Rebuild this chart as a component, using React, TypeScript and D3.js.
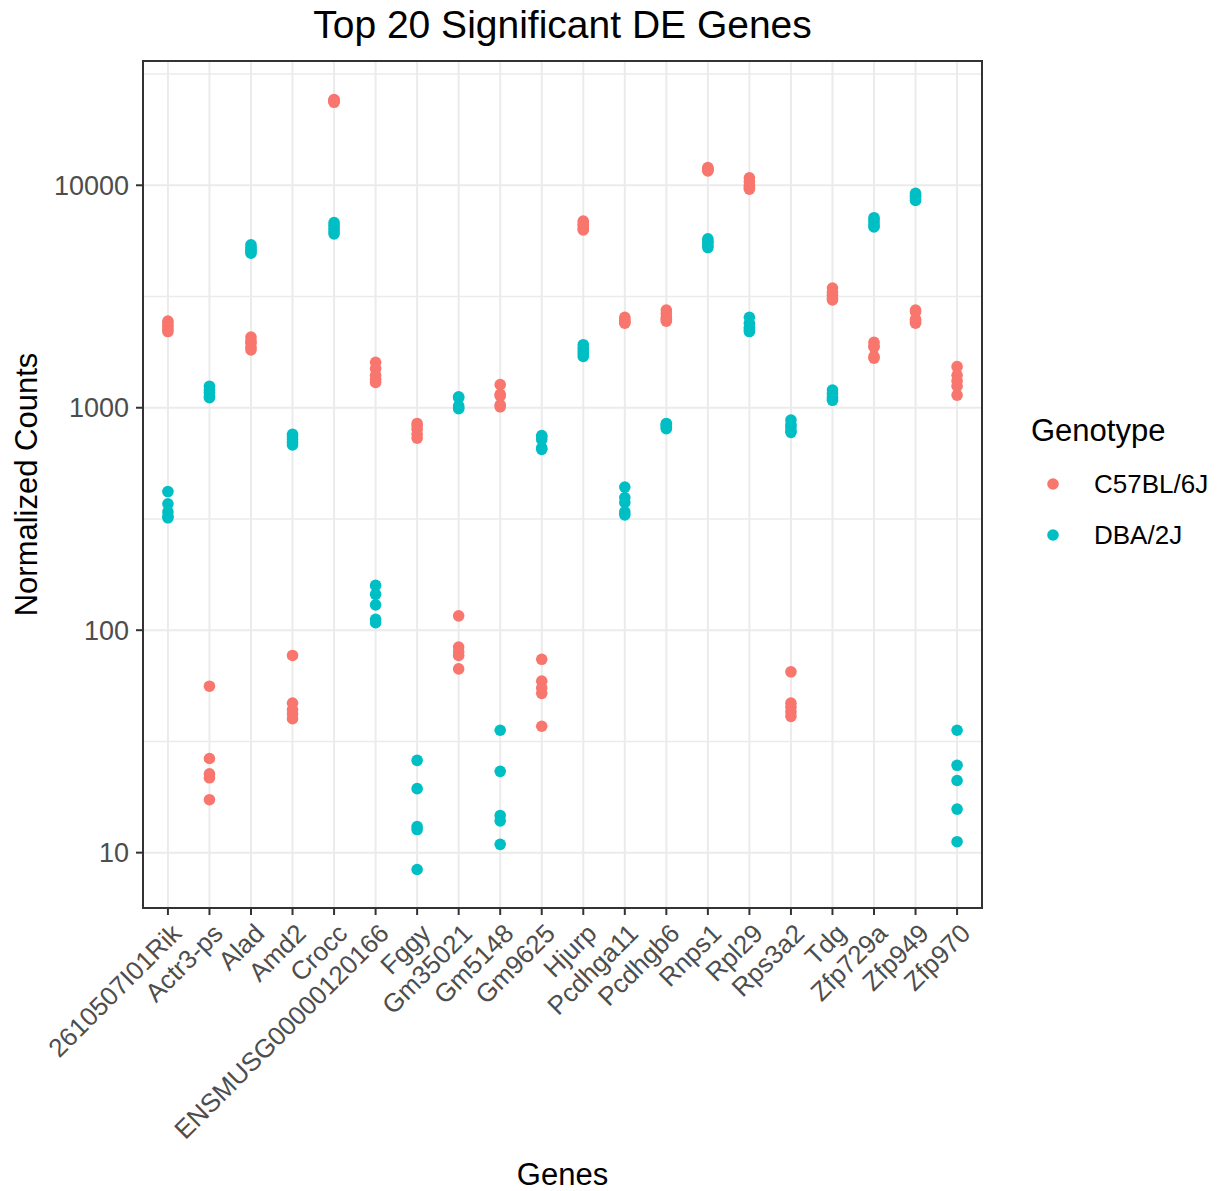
import React from "react";
import * as d3 from "d3";

const genes = [
  "2610507I01Rik", "Actr3-ps", "Alad", "Amd2", "Crocc", "ENSMUSG00000120166",
  "Fggy", "Gm35021", "Gm5148", "Gm9625", "Hjurp", "Pcdhga11", "Pcdhgb6",
  "Rnps1", "Rpl29", "Rps3a2", "Tdg", "Zfp729a", "Zfp949", "Zfp970",
];

const genotypes = ["C57BL/6J", "DBA/2J"];
const genotypeColors = ["#F8766D", "#00BFC4"];

const c57Counts = [
  [2450, 2380, 2320, 2250, 2200],
  [56, 26.5, 22.6, 21.7, 17.3],
  [2080, 2000, 1950, 1870, 1820],
  [77, 47, 44, 42, 40],
  [24300, 24100, 24000, 23800, 23600],
  [1600, 1500, 1400, 1340, 1300],
  [850, 830, 800, 760, 730],
  [116, 84, 80, 77, 67],
  [1270, 1150, 1130, 1030, 1010],
  [74, 59, 55, 52, 37],
  [6900, 6700, 6600, 6400, 6300],
  [2550, 2500, 2450, 2420, 2400],
  [2750, 2650, 2550, 2500, 2450],
  [12000, 11900, 11800, 11700, 11600],
  [10800, 10400, 10000, 9800, 9600],
  [65, 47, 45, 43, 41],
  [3450, 3300, 3200, 3100, 3050],
  [1970, 1900, 1870, 1700, 1670],
  [2750, 2700, 2500, 2450, 2400],
  [1530, 1400, 1320, 1250, 1140],
];

const dbaCounts = [
  [420, 370, 340, 325, 320],
  [1250, 1200, 1170, 1130, 1110],
  [5400, 5250, 5150, 5050, 4950],
  [760, 740, 720, 700, 680],
  [6800, 6600, 6400, 6200, 6050],
  [159, 145, 130, 112, 108],
  [26, 19.4, 13.1, 12.7, 8.4],
  [1120, 1110, 1020, 1000, 990],
  [35.5, 23.2, 14.7, 13.9, 10.9],
  [750, 740, 720, 660, 650],
  [1920, 1850, 1800, 1750, 1700],
  [440, 395, 375, 340, 330],
  [850, 840, 830, 815, 805],
  [5750, 5600, 5500, 5350, 5250],
  [2550, 2400, 2300, 2250, 2200],
  [880, 840, 820, 790, 775],
  [1200, 1160, 1120, 1100, 1080],
  [7150, 7000, 6800, 6600, 6500],
  [9200, 9000, 8900, 8700, 8550],
  [35.5, 24.7, 21.1, 15.7, 11.2],
];

const yTicks = [10, 100, 1000, 10000];
const yMinorTicks = [3.1623, 31.623, 316.23, 3162.3, 31623];

const W = 1219;
const H = 1191;
const panel = { left: 143, right: 982, top: 61, bottom: 908 };
const FONT = "'Liberation Sans', Arial, Helvetica, sans-serif";

export default function App() {
  const points: { gene: string; value: number; g: number }[] = [];
  genes.forEach((gene, i) => {
    c57Counts[i].forEach((v) => points.push({ gene, value: v, g: 0 }));
    dbaCounts[i].forEach((v) => points.push({ gene, value: v, g: 1 }));
  });

  const allVals = points.map((p) => Math.log10(p.value));
  const lmin = d3.min(allVals) as number;
  const lmax = d3.max(allVals) as number;
  const pad = (lmax - lmin) * 0.05;

  const y = d3
    .scaleLog()
    .domain([Math.pow(10, lmin - pad), Math.pow(10, lmax + pad)])
    .range([panel.bottom, panel.top]);

  const x = d3
    .scalePoint<string>()
    .domain(genes)
    .range([panel.left, panel.right])
    .padding(0.6);

  const [d0, d1] = y.domain();
  const inDomain = (v: number) => v >= d0 && v <= d1;

  const gridColor = "#EBEBEB";
  const axisColor = "#333333";
  const tickText = "#4D4D4D";

  return (
    <svg
      width={W}
      height={H}
      style={{ position: "absolute", left: 0, top: 0, display: "block", background: "#fff" }}
      fontFamily={FONT}
    >
      <rect x={0} y={0} width={W} height={H} fill="#fff" />
      {yMinorTicks.filter(inDomain).map((t) => (
        <line key={"ym" + t} x1={panel.left} x2={panel.right} y1={y(t)} y2={y(t)} stroke={gridColor} strokeWidth={1.5} />
      ))}
      {yTicks.map((t) => (
        <line key={"yg" + t} x1={panel.left} x2={panel.right} y1={y(t)} y2={y(t)} stroke={gridColor} strokeWidth={2} />
      ))}
      {genes.map((g) => (
        <line key={"xg" + g} x1={x(g)} x2={x(g)} y1={panel.top} y2={panel.bottom} stroke={gridColor} strokeWidth={2} />
      ))}

      {points.map((p, i) => (
        <circle key={i} cx={x(p.gene)} cy={y(p.value)} r={5.8} fill={genotypeColors[p.g]} />
      ))}

      <rect
        x={panel.left}
        y={panel.top}
        width={panel.right - panel.left}
        height={panel.bottom - panel.top}
        fill="none"
        stroke={axisColor}
        strokeWidth={2}
      />

      {yTicks.map((t) => (
        <g key={"yt" + t}>
          <line x1={panel.left - 7} x2={panel.left} y1={y(t)} y2={y(t)} stroke={axisColor} strokeWidth={2} />
          <text x={panel.left - 14} y={y(t)} dy="0.35em" textAnchor="end" fontSize={27} fill={tickText}>
            {t}
          </text>
        </g>
      ))}

      {genes.map((g) => (
        <g key={"xt" + g}>
          <line x1={x(g)} x2={x(g)} y1={panel.bottom} y2={panel.bottom + 7} stroke={axisColor} strokeWidth={2} />
          <text
            transform={`translate(${(x(g) as number) + 15},${panel.bottom + 27}) rotate(-45)`}
            textAnchor="end"
            fontSize={26}
            fill={tickText}
          >
            {g}
          </text>
        </g>
      ))}

      <text x={(panel.left + panel.right) / 2} y={38} textAnchor="middle" fontSize={39} fill="#000">
        Top 20 Significant DE Genes
      </text>
      <text x={(panel.left + panel.right) / 2} y={1185} textAnchor="middle" fontSize={31} fill="#000">
        Genes
      </text>
      <text
        transform={`translate(37,${(panel.top + panel.bottom) / 2}) rotate(-90)`}
        textAnchor="middle"
        fontSize={31}
        fill="#000"
      >
        Normalized Counts
      </text>

      <text x={1031} y={441} fontSize={31} fill="#000">
        Genotype
      </text>
      {genotypes.map((gt, i) => (
        <g key={gt}>
          <circle cx={1053} cy={484 + i * 51} r={5.8} fill={genotypeColors[i]} />
          <text x={1094} y={484 + i * 51} dy="0.35em" fontSize={26} fill="#000">
            {gt}
          </text>
        </g>
      ))}
    </svg>
  );
}
